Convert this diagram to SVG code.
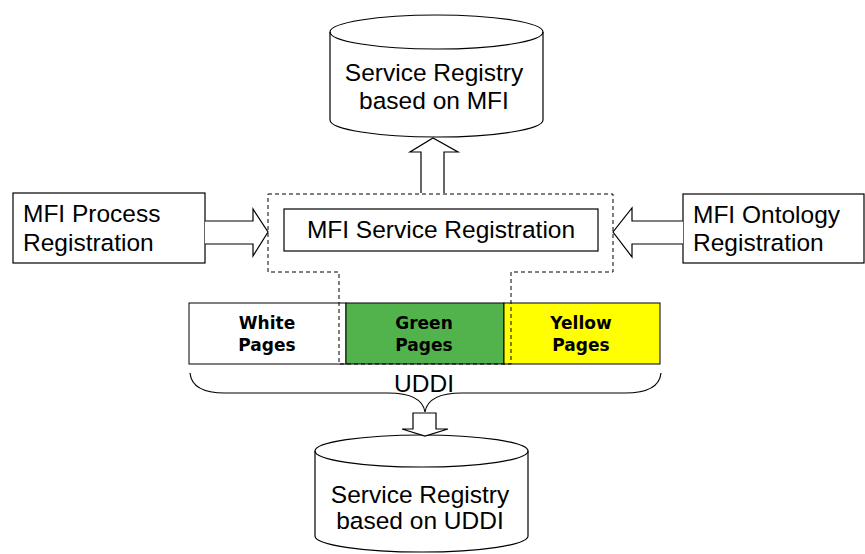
<svg xmlns="http://www.w3.org/2000/svg" width="865" height="554" viewBox="0 0 865 554">
<style>
.s{fill:#fff;stroke:#000;stroke-width:1.2}
.t{font-family:"Liberation Sans",Arial,sans-serif;font-size:24.5px;fill:#000}
.b{font-family:"DejaVu Sans",Verdana,sans-serif;font-size:17px;font-weight:bold;fill:#000;text-anchor:middle}
.d{fill:none;stroke:#000;stroke-width:1;stroke-dasharray:4,3}
</style>
<rect width="865" height="554" fill="#fff"/>
<g id="registry-mfi">
<path class="s" d="M330,32 L330,120 A106.5,17 0 0 0 543,120 L543,32 A106.5,17 0 0 0 330,32 Z"/>
<path fill="none" stroke="#000" stroke-width="1.2" d="M330,32 A106.5,17 0 0 0 543,32"/>
<text class="t" x="434" y="81" text-anchor="middle">Service Registry</text>
<text class="t" x="434" y="109" text-anchor="middle">based on MFI</text>
</g>
<g id="service-registration">
<rect class="s" x="284" y="209" width="314" height="42"/>
<text class="t" x="441" y="238" text-anchor="middle">MFI Service Registration</text>
</g>
<g id="process-registration">
<rect class="s" x="13" y="193" width="192" height="70"/>
<text class="t" x="23" y="222">MFI Process</text>
<text class="t" x="23" y="251">Registration</text>
</g>
<g id="ontology-registration">
<rect class="s" x="683" y="194" width="181" height="69"/>
<text class="t" x="693" y="223">MFI Ontology</text>
<text class="t" x="693" y="251">Registration</text>
</g>
<g id="white-pages">
<rect x="189" y="303" width="157" height="61" fill="#fff" stroke="#000" stroke-width="1"/>
<text class="b" x="267" y="329">White</text>
<text class="b" x="267" y="351">Pages</text>
</g>
<g id="green-pages">
<rect x="346" y="303" width="158" height="61" fill="#52b24c" stroke="#000" stroke-width="1"/>
<text class="b" x="424" y="329">Green</text>
<text class="b" x="424" y="351">Pages</text>
</g>
<g id="yellow-pages">
<rect x="504" y="303" width="156" height="61" fill="#ffff00" stroke="#000" stroke-width="1"/>
<text class="b" x="581" y="329">Yellow</text>
<text class="b" x="581" y="351">Pages</text>
</g>
<g id="mfi-area">
<path class="d" d="M268,194 L613,194 L613,272 L511,272 L511,364 L339,364 L339,272 L268,272 Z"/>
</g>
<g id="uddi">
<path fill="none" stroke="#000" stroke-width="1.2" d="M190,373 Q192,393 225,393 L388,393 Q422,393 425,412 Q428,393 462,393 L625,393 Q659,393 661,373"/>
<text class="t" x="424" y="392" text-anchor="middle">UDDI</text>
</g>
<g id="registry-uddi">
<path class="s" d="M315,451 L315,536 A106.5,16 0 0 0 528,536 L528,451 A106.5,16 0 0 0 315,451 Z"/>
<path fill="none" stroke="#000" stroke-width="1.2" d="M315,451 A106.5,16 0 0 0 528,451"/>
<text class="t" x="420" y="503" text-anchor="middle">Service Registry</text>
<text class="t" x="420" y="529" text-anchor="middle">based on UDDI</text>
</g>
<g id="connectors">
<path class="s" d="M421,193 L421,152 L410,152 L433,138 L458,152 L444,152 L444,193"/>
<path class="s" d="M205,221 L253,221 L253,209 L268,232 L253,256 L253,244 L205,244"/>
<path class="s" d="M683,221 L632,221 L632,208 L613,232 L632,257 L632,244 L683,244"/>
<path class="s" d="M413,413 L413,429 L402,429 L425,436 L448,429 L436,429 L436,413 Z"/>
</g>
</svg>
